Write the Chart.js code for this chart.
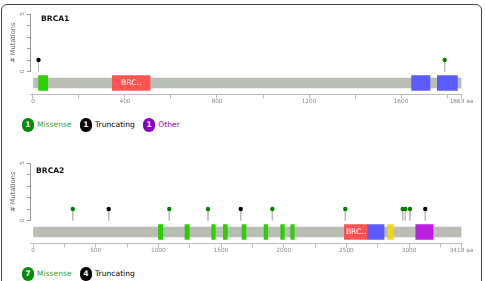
<!DOCTYPE html>
<html>
<head>
<meta charset="utf-8">
<script src="https://cdn.jsdelivr.net/npm/chart.js@4.4.0/dist/chart.umd.min.js"></script>
<style>
  body { margin: 0; width: 485px; height: 281px; overflow: hidden; position: relative; background: #fff; font-family: "DejaVu Sans", sans-serif; }
  .frame { position: absolute; left: 1px; top: 4px; width: 481px; height: 330px; border: 1px solid #444; border-radius: 6px; box-sizing: border-box; }
  canvas { position: absolute; left: 0; }
  .title { position: absolute; font-weight: bold; font-size: 7.6px; line-height: 7.6px; color: #111; }
  .legend { position: absolute; left: 22px; height: 13.4px; display: flex; align-items: center; font-size: 7.6px; }
  .badge { display: inline-flex; width: 11.6px; height: 13.4px; border-radius: 5.8px; color: #fff; font-weight: bold; justify-content: center; align-items: center; margin-right: 3.4px; }
  .lbl { margin-right: 8.4px; }
</style>
</head>
<body>
<div class="frame"></div>
<canvas id="brca1" width="485" height="110" style="top:0"></canvas>
<div class="title" style="left:41px;top:14.6px">BRCA1</div>
<div class="legend" id="leg1" style="top:118.3px"></div>
<canvas id="brca2" width="485" height="110" style="top:149px"></canvas>
<div class="title" style="left:36px;top:166.6px">BRCA2</div>
<div class="legend" id="leg2" style="top:267.3px"></div>
<script>
// ---------- DATA ----------
const brca1Length = 1863;
const brca1DomainNames = ['zf-C3HC4', 'BRCT_assoc', 'BRCT', 'BRCT'];
const brca1DomainStart = [24, 345, 1646, 1758];
const brca1DomainEnd = [64, 509, 1726, 1845];
const brca1MutPos = [24, 1790];
const brca1MutCount = [1, 1];
const brca1MutType = ['Truncating', 'Missense'];
const brca1LegendTypes = ['Missense', 'Truncating', 'Other'];
const brca1LegendCounts = [1, 1, 1];

const brca2Length = 3418;
const brca2DomainNames = ['BRCA2', 'BRCA2', 'BRCA2', 'BRCA2', 'BRCA2', 'BRCA2', 'BRCA2', 'BRCA2',
  'BRCA-2_helical', 'BRCA-2_OB1', 'Tower', 'BRCA-2_OB3'];
const brca2DomainStart = [1000, 1212, 1425, 1518, 1667, 1843, 1976, 2056, 2483, 2670, 2829, 3053];
const brca2DomainEnd = [1035, 1247, 1454, 1550, 1699, 1872, 2005, 2084, 2670, 2800, 2874, 3191];
const brca2MutPos = [317, 604, 1087, 1396, 1657, 1909, 2491, 2949, 2970, 3007, 3129];
const brca2MutCount = [1, 1, 1, 1, 1, 1, 1, 1, 1, 1, 1];
const brca2MutType = ['Missense', 'Truncating', 'Missense', 'Missense', 'Truncating', 'Missense',
  'Missense', 'Missense', 'Missense', 'Missense', 'Truncating'];
const brca2LegendTypes = ['Missense', 'Truncating'];
const brca2LegendCounts = [7, 4];

// ---------- STYLE ----------
const domainColors = {
  'zf-C3HC4': '#2dcf00', 'BRCT_assoc': '#ff5353', 'BRCT': '#5b5bff',
  'BRCA2': '#2dcf00', 'BRCA-2_helical': '#ff5353', 'BRCA-2_OB1': '#5b5bff',
  'Tower': '#ebd61d', 'BRCA-2_OB3': '#ba21e0'
};
const mutColors = { Missense: '#008000', Truncating: '#000000', Other: '#8B00C9' };
const backbone = '#BABDB6';

const domainLabels = {
  id: 'domainLabels',
  afterDatasetsDraw(chart) {
    const ds = chart.data.datasets[2];
    const meta = chart.getDatasetMeta(2);
    const ctx = chart.ctx;
    ctx.save();
    ctx.font = '7.6px "DejaVu Sans"';
    ctx.fillStyle = '#fff';
    ctx.textAlign = 'center';
    ctx.textBaseline = 'middle';
    meta.data.forEach((el, i) => {
      if (Math.abs(el.x - el.base) < 22) return;
      ctx.fillText(ds.names[i].slice(0, 3) + '..', (el.x + el.base) / 2, el.y + 0.5);
    });
    ctx.restore();
  }
};

function drawPanel(id, length, xMin, domNames, domStart, domEnd, mutPos, mutCount, mutType, tickStep, labelStep) {
  const stems = [];
  mutPos.forEach((p, i) => {
    stems.push({ x: p, y: mutCount[i] }, { x: p, y: -1 }, { x: p, y: null });
  });

  new Chart(document.getElementById(id), {
    data: {
      datasets: [
        { type: 'scatter', data: stems, showLine: true, spanGaps: false, borderColor: backbone, borderWidth: 1,
          pointRadius: 0, xAxisID: 'x', yAxisID: 'y', order: 4 },
        { type: 'bar', indexAxis: 'y', data: [{ x: [0, length], y: 0 }], backgroundColor: backbone,
          barThickness: 10, grouped: false, xAxisID: 'x', yAxisID: 'track', order: 3 },
        { type: 'bar', indexAxis: 'y', names: domNames,
          data: domStart.map((s, i) => ({ x: [s, domEnd[i]], y: 0 })),
          backgroundColor: domNames.map(n => domainColors[n]),
          barThickness: 15, grouped: false, xAxisID: 'x', yAxisID: 'track', order: 2 },
        { type: 'scatter', data: mutPos.map((p, i) => ({ x: p, y: mutCount[i] })),
          pointBackgroundColor: mutType.map(t => mutColors[t]), pointBorderColor: mutType.map(t => mutColors[t]),
          pointBorderWidth: 0, pointRadius: 2.2, xAxisID: 'x', yAxisID: 'y', order: 1 }
      ]
    },
    options: {
      responsive: false,
      animation: false,
      events: [],
      layout: { padding: { left: 0, right: 23.5, top: 14, bottom: 0 } },
      plugins: { legend: { display: false }, tooltip: { enabled: false } },
      scales: {
        x: {
          type: 'linear', axis: 'x', position: 'bottom', min: xMin, max: length, offset: false,
          afterFit: s => { s.height = 15.5; },
          afterBuildTicks: s => {
            const t = [];
            for (let v = 0; v < length; v += tickStep) t.push({ value: v });
            t.push({ value: length });
            s.ticks = t;
          },
          ticks: {
            autoSkip: false, maxRotation: 0, padding: 0, color: '#888',
            font: { family: 'DejaVu Sans', size: 5.8 },
            callback: v => v === length ? length + ' aa' : (v % labelStep === 0 ? v : '')
          },
          grid: { drawOnChartArea: false, drawTicks: true, tickLength: 4, color: '#bbb' },
          border: { color: '#bbb' }
        },
        y: {
          type: 'linear', axis: 'y', position: 'left', stack: 'p', stackWeight: 57.5, weight: 1,
          min: 0, max: 5, offset: false,
          afterFit: s => { s.width = 30; },
          ticks: {
            stepSize: 1, minRotation: 90, maxRotation: 90, crossAlign: 'center', padding: 3, color: '#888',
            font: { family: 'DejaVu Sans', size: 5.8 },
            callback: v => (v === 0 || v === 5) ? v : ''
          },
          grid: { drawOnChartArea: false, drawTicks: true, tickLength: 3, color: '#999' },
          border: { color: '#999' },
          title: { display: true, text: '# Mutations', color: '#666', font: { family: 'DejaVu Sans', size: 6.6 },
            padding: { top: 9, bottom: 0 } }
        },
        track: {
          type: 'linear', axis: 'y', position: 'left', stack: 'p', stackWeight: 23, weight: 0,
          min: -1, max: 1, offset: false,
          afterFit: s => { s.width = 30; },
          ticks: { display: false },
          grid: { display: false, drawTicks: false },
          border: { display: false }
        }
      }
    },
    plugins: [domainLabels]
  });
}

function drawLegend(id, types, counts) {
  const el = document.getElementById(id);
  types.forEach((t, i) => {
    const b = document.createElement('span');
    b.className = 'badge';
    b.style.background = mutColors[t] === '#008000' ? '#0a8a0a' : mutColors[t];
    b.textContent = counts[i];
    const l = document.createElement('span');
    l.className = 'lbl';
    l.style.color = mutColors[t] === '#008000' ? '#3c9a3c' : mutColors[t];
    l.textContent = t;
    el.appendChild(b);
    el.appendChild(l);
  });
}

drawPanel('brca1', brca1Length, -13, brca1DomainNames, brca1DomainStart, brca1DomainEnd,
  brca1MutPos, brca1MutCount, brca1MutType, 200, 400);
drawPanel('brca2', brca2Length, -24, brca2DomainNames, brca2DomainStart, brca2DomainEnd,
  brca2MutPos, brca2MutCount, brca2MutType, 250, 500);
drawLegend('leg1', brca1LegendTypes, brca1LegendCounts);
drawLegend('leg2', brca2LegendTypes, brca2LegendCounts);
</script>
</body>
</html>
